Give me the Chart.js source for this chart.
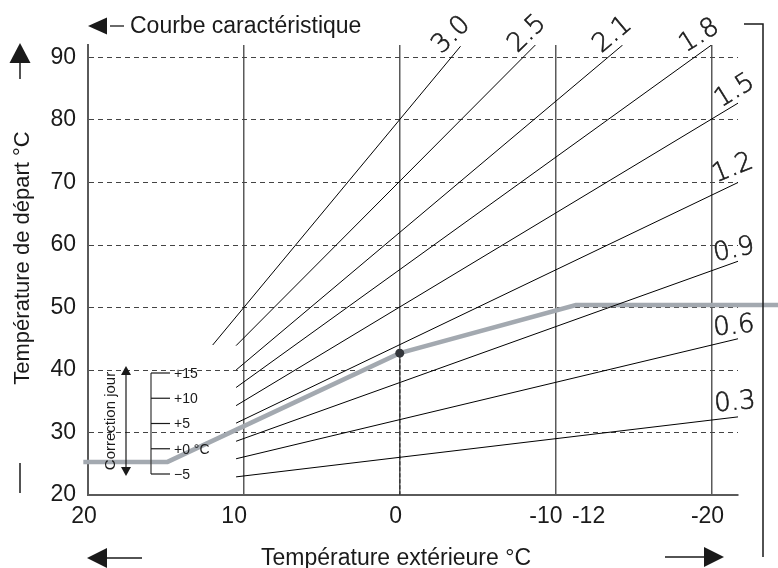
<!DOCTYPE html>
<html lang="fr">
<head>
  <meta charset="UTF-8">
  <title>Courbe caractéristique</title>
  <script src="https://cdn.jsdelivr.net/npm/chart.js"></script>
  <style>
    html, body { margin: 0; padding: 0; background: #fff; }
    canvas { display: block; }
  </style>
</head>
<body>
<canvas id="courbe" width="778" height="568"></canvas>

<script>
// Valeurs (x = température extérieure, y = température de départ)
const pentes = ['0.3', '0.6', '0.9', '1.2', '1.5', '1.8', '2.1', '2.5', '3.0'];
const debutCourbes = [
  [10.5, 22.9], [10.5, 25.8], [10.5, 28.6], [10.5, 31.5], [10.5, 34.3],
  [10.5, 37.2], [10.5, 40.0], [10.5, 43.9], [12, 44.0]
];
const finCourbes = [
  [-21.7, 32.5], [-21.7, 45.0], [-21.7, 57.4], [-21.7, 70.0], [-21.7, 82.7],
  [-20, 92.0], [-14.3, 92.0], [-8.7, 92.0], [-3.9, 91.8]
];
const courbeReglee = [[20.3, 25.3], [14.9, 25.3], [0, 42.7], [-11.3, 50.4], [-24.3, 50.4]];
const pointReglage = [0, 42.7];
const ticksX = [20, 10, 0, -10, -12, -20];
const ticksY = [20, 30, 40, 50, 60, 70, 80, 90];
const correctionJour = ['+15', '+10', '+5', '+0 °C', '−5'];

// style des étiquettes de pente : angle (deg) et décalage depuis la fin de la courbe (px)
const anglesEtiq = [-5, -6, -12, -22, -32, -32, -40, -44, -44];
const decalEtiq = [[-3, -14], [-4, -12], [-4, -11], [-5, -14], [-3, -12], [-12, -9], [-10, -10], [-8, -11], [-9, -11]];

const police = "'Liberation Sans', Arial, sans-serif";

const datasets = [];
// point de réglage
datasets.push({
  data: [{ x: pointReglage[0], y: pointReglage[1] }],
  pointRadius: 4.5, pointBackgroundColor: '#33363b', pointBorderWidth: 0, showLine: false
});
// pentes
pentes.forEach((p, i) => {
  datasets.push({
    label: p,
    data: [
      { x: debutCourbes[i][0], y: debutCourbes[i][1] },
      { x: finCourbes[i][0], y: finCourbes[i][1] }
    ],
    showLine: true, borderColor: '#000', borderWidth: 1, pointRadius: 0
  });
});
// pointillé vertical sous le point
datasets.push({
  data: [{ x: pointReglage[0], y: pointReglage[1] }, { x: pointReglage[0], y: 20 }],
  showLine: true, borderColor: '#3a3a3a', borderWidth: 1.5, borderDash: [4, 2], pointRadius: 0
});
// courbe réglée (grise)
datasets.push({
  data: courbeReglee.map(p => ({ x: p[0], y: p[1] })),
  showLine: true, borderColor: '#a3a9b0', borderWidth: 4.5, pointRadius: 0,
  borderJoinStyle: 'miter', clip: false
});

function fleche(ctx, ax, ay, dir, long, larg) {
  // triangle plein, pointe en (ax, ay)
  ctx.beginPath();
  ctx.moveTo(ax, ay);
  if (dir === 'gauche') { ctx.lineTo(ax + long, ay - larg); ctx.lineTo(ax + long, ay + larg); }
  if (dir === 'droite') { ctx.lineTo(ax - long, ay - larg); ctx.lineTo(ax - long, ay + larg); }
  if (dir === 'haut') { ctx.lineTo(ax - larg, ay + long); ctx.lineTo(ax + larg, ay + long); }
  if (dir === 'bas') { ctx.lineTo(ax - larg, ay - long); ctx.lineTo(ax + larg, ay - long); }
  ctx.closePath();
  ctx.fill();
}

function trait(ctx, pts, w) {
  ctx.lineWidth = w;
  ctx.beginPath();
  ctx.moveTo(pts[0][0], pts[0][1]);
  for (let i = 1; i < pts.length; i++) ctx.lineTo(pts[i][0], pts[i][1]);
  ctx.stroke();
}

// léger décalage des libellés de l'axe x, comme sur l'original
function libelleX(v) {
  if (v === 10 || v === -10) return v + '\u2002';
  if (v === -12) return '\u2002' + v;
  return String(v);
}

const decor = {
  id: 'decor',
  afterDraw(chart) {
    const ctx = chart.ctx;
    const xs = chart.scales.x, ys = chart.scales.y;
    ctx.save();
    ctx.fillStyle = '#1a1a1a';
    ctx.strokeStyle = '#1a1a1a';

    // étiquettes des pentes
    ctx.font = "200 26px 'DejaVu Sans', sans-serif";
    ctx.textAlign = 'center';
    ctx.textBaseline = 'middle';
    ctx.lineWidth = 0.6;
    pentes.forEach((p, i) => {
      const px = xs.getPixelForValue(finCourbes[i][0]) + decalEtiq[i][0];
      const py = ys.getPixelForValue(finCourbes[i][1]) + decalEtiq[i][1];
      ctx.save();
      ctx.translate(px, py);
      ctx.rotate(anglesEtiq[i] * Math.PI / 180);
      ctx.fillText(p, 0, 0);
      ctx.strokeText(p, 0, 0);
      ctx.restore();
    });

    // titre en haut
    fleche(ctx, 88, 26, 'gauche', 19, 8.5);
    trait(ctx, [[110, 26], [124, 26]], 1.3);
    ctx.font = '23px ' + police;
    ctx.textAlign = 'left';
    ctx.textBaseline = 'alphabetic';
    ctx.fillText('Courbe caractéristique', 130, 33);

    // axe vertical : flèche, titre, petit trait
    fleche(ctx, 20, 43, 'haut', 20, 10.5);
    trait(ctx, [[20, 62], [20, 79]], 1.5);
    trait(ctx, [[20, 463], [20, 493]], 1.5);
    ctx.save();
    ctx.translate(29, 258);
    ctx.rotate(-Math.PI / 2);
    ctx.textAlign = 'center';
    ctx.font = '22px ' + police;
    ctx.fillText('Température de départ °C', 0, 0);
    ctx.restore();

    // axe horizontal : titre et flèches
    ctx.font = '23px ' + police;
    ctx.textAlign = 'center';
    ctx.fillText('Température extérieure °C', 396, 565);
    fleche(ctx, 87, 558, 'gauche', 20, 10);
    trait(ctx, [[105, 558], [142, 558]], 1.5);
    trait(ctx, [[665, 557], [706, 557]], 1.5);
    fleche(ctx, 724, 557, 'droite', 20, 10);

    // crochet à droite
    trait(ctx, [[744, 24], [763, 24], [763, 557]], 1.5);

    // correction jour
    trait(ctx, [[126, 370], [126, 472]], 1.2);
    fleche(ctx, 126, 366, 'haut', 9, 5);
    fleche(ctx, 126, 476, 'bas', 9, 5);
    ctx.save();
    ctx.translate(115, 421);
    ctx.rotate(-Math.PI / 2);
    ctx.font = '15px ' + police;
    ctx.textAlign = 'center';
    ctx.fillText('Correction jour', 0, 0);
    ctx.restore();
    ctx.strokeStyle = '#444';
    trait(ctx, [[151, 373], [151, 474]], 1.3);
    ctx.font = '14px ' + police;
    ctx.textAlign = 'left';
    ctx.textBaseline = 'middle';
    correctionJour.forEach((t, i) => {
      const y = 373 + i * 25.25;
      ctx.strokeStyle = '#1a1a1a';
      trait(ctx, [[151, y], [170, y]], 1.2);
      ctx.fillText(t, 174, y + 1);
    });
    ctx.restore();
  }
};

new Chart(document.getElementById('courbe'), {
  type: 'scatter',
  data: { datasets },
  options: {
    responsive: false,
    animation: false,
    layout: { padding: { top: 45, right: 40, left: 0, bottom: 0 } },
    plugins: { legend: { display: false }, tooltip: { enabled: false } },
    scales: {
      x: {
        type: 'linear', reverse: true, min: -21.7, max: 20,
        afterBuildTicks: s => { s.ticks = ticksX.map(v => ({ value: v })); },
        afterFit: s => { s.height = 73; },
        grid: {
          drawTicks: false,
          lineWidth: 1.5,
          color: c => (c.tick && (c.tick.value === 20 || c.tick.value === -12)) ? 'rgba(0,0,0,0)' : '#5a5a5a'
        },
        border: { color: '#5a5a5a', width: 2 },
        ticks: {
          autoSkip: false, maxRotation: 0, padding: 8, labelOffset: -4, color: '#1a1a1a',
          font: { family: police, size: 23 },
          callback: v => libelleX(v)
        }
      },
      y: {
        type: 'linear', min: 20, max: 92,
        afterBuildTicks: s => { s.ticks = ticksY.map(v => ({ value: v })); },
        afterFit: s => { s.width = 88; },
        grid: {
          drawTicks: false,
          lineWidth: 1,
          color: c => (c.tick && c.tick.value === 20) ? 'rgba(0,0,0,0)' : '#444'
        },
        border: { color: '#5a5a5a', width: 2, dash: [5, 4] },
        ticks: {
          padding: 12, color: '#1a1a1a',
          font: { family: police, size: 23 },
          callback: v => String(v)
        }
      }
    }
  },
  plugins: [decor]
});
</script>
</body>
</html>
